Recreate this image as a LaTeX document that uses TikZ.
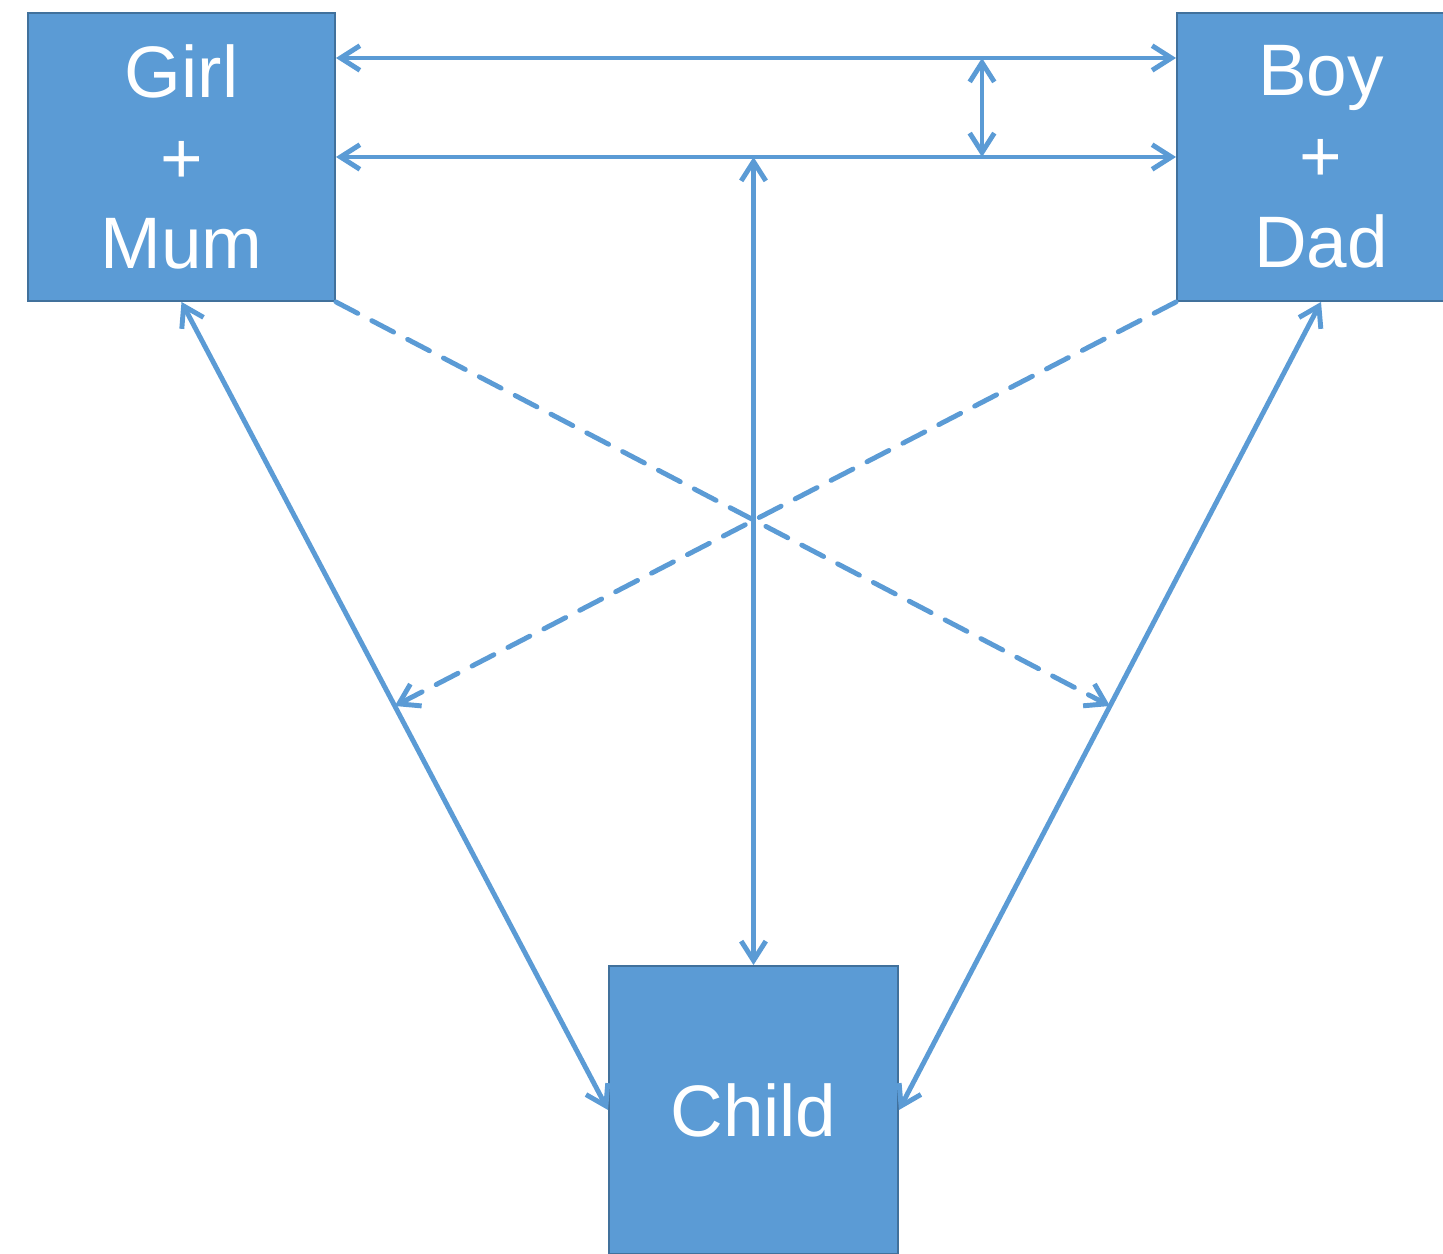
\documentclass[tikz,border=0pt]{standalone}
\usepackage{fontspec}
\setmainfont{Liberation Sans}
\usetikzlibrary{arrows.meta,calc}
\definecolor{boxblue}{HTML}{5B9BD5}
\definecolor{edgeblue}{HTML}{41719C}
\begin{document}
\begin{tikzpicture}[>={Straight Barb[length=11pt,width=14pt]}, line cap=round,
    famblock/.style={draw=edgeblue, line width=1.1pt, fill=boxblue, text=white, rectangle,
        minimum height=5.76cm, inner sep=0pt, align=center,
        font=\fontsize{41.5}{48.8}\selectfont},
    link/.style={draw=boxblue, line width=2.8pt},
    hint/.style={link, dash pattern=on 14pt off 9pt}]
        \useasboundingbox (0,0) rectangle (28.86,25.08);

        % Blocchi della famiglia
        \node[famblock, minimum width=6.14cm] (girl) at (3.63,21.94) {Girl\\+\\Mum};
        \node[famblock, minimum width=5.76cm] (boy) at (26.42,21.94) {Boy\\+\\Dad};
        \node[famblock, minimum width=5.78cm] (child) at (15.07,2.88) {Child};

        % Collegamenti orizzontali tra i genitori
        \draw[link, <->] ([yshift=1.98cm]girl.east) -- ([yshift=1.98cm]boy.west);
        \draw[link, <->] (girl.east) -- (boy.west);
        \coordinate (upper) at (19.64,23.92);
        \coordinate (lower) at (19.64,21.94);
        \draw[link, <->] (upper) -- (lower);

        % Collegamenti verso il figlio
        \coordinate (join) at (child.north |- girl.east);
        \draw[link, <->] (join) -- (child.north);
        \draw[link, <->] (girl.south) -- (child.west);
        \draw[link, <->] (boy.south) -- (child.east);

        % Influenze incrociate (tratteggiate)
        \coordinate (gc) at ($(girl.south)!0.5!(child.west)$);
        \coordinate (bc) at ($(boy.south)!0.5!(child.east)$);
        \draw[hint, ->] (girl.south east) -- (bc);
        \draw[hint, ->] (boy.south west) -- (gc);
    \end{tikzpicture}
\end{document}
